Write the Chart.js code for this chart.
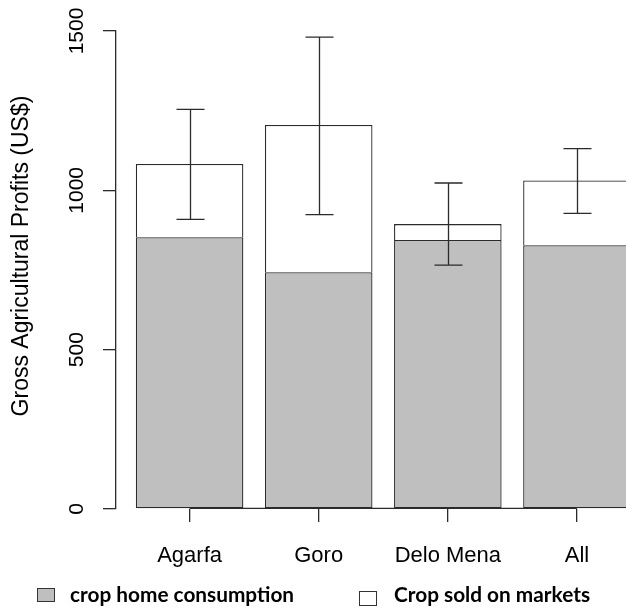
<!DOCTYPE html>
<html>
<head>
<meta charset="utf-8">
<script src="https://cdn.jsdelivr.net/npm/chart.js@4.4.1/dist/chart.umd.min.js"></script>
<style>
  body { margin: 0; background: #fff; overflow: hidden; }
  #wrap { position: relative; width: 626px; height: 610px; }
  .key-box { position: absolute; box-sizing: border-box; border: 1.5px solid #333; }
  .key-text { position: absolute; font: bold 20.8px Lato, sans-serif; line-height: 24px; color: #000; white-space: nowrap; }
</style>
</head>
<body>
<div id="wrap">
  <canvas id="profitChart" width="626" height="610"></canvas>
  <div id="legend"></div>
</div>
<script>
// values (US$)
const categories = ['Agarfa', 'Goro', 'Delo Mena', 'All'];
const homeConsumption = [853, 743, 844, 828];
const soldOnMarkets = [230, 462, 50, 203];
const errLow = [909, 924, 765, 928];
const errHigh = [1254, 1481, 1023, 1131];
const yTicks = [0, 500, 1000, 1500];
const seriesNames = ['crop home consumption', 'Crop sold on markets'];
const seriesColors = ['#bebfbe', '#ffffff'];
const yTitle = 'Gross Agricultural Profits (US$)';

const lineColor = '#2b2b2b';
const lineW = 1.3;
const tickFont = { family: '"Liberation Sans", Arial, sans-serif', size: 21 };

// error bars + axis line between first and last tick (R style)
const errorBars = {
  id: 'errorBars',
  afterDatasetsDraw(chart) {
    const { ctx, scales: { x, y } } = chart;
    const y0 = y.getPixelForValue(0) - lineW / 2;
    ctx.save();
    ctx.strokeStyle = lineColor;
    ctx.lineWidth = lineW;
    ctx.beginPath();
    ctx.moveTo(x.getPixelForValue(0), y0);
    ctx.lineTo(x.getPixelForValue(categories.length - 1), y0);
    ctx.stroke();
    categories.forEach((c, i) => {
      const px = Math.round(x.getPixelForValue(i)) + 0.5;
      const lo = y.getPixelForValue(errLow[i]);
      const hi = y.getPixelForValue(errHigh[i]);
      ctx.beginPath();
      ctx.moveTo(px, lo);
      ctx.lineTo(px, hi);
      ctx.moveTo(px - 14, lo);
      ctx.lineTo(px + 14, lo);
      ctx.moveTo(px - 14, hi);
      ctx.lineTo(px + 14, hi);
      ctx.stroke();
    });
    ctx.restore();
  }
};

// y title, centred a bit above the plot middle like the original
const yTitlePlugin = {
  id: 'yTitlePlugin',
  afterDraw(chart) {
    const { ctx, chartArea } = chart;
    ctx.save();
    ctx.translate(21.5, (chartArea.top + chartArea.bottom) / 2 - 14);
    ctx.rotate(-Math.PI / 2);
    ctx.font = '23px "Liberation Sans", Arial, sans-serif';
    ctx.fillStyle = '#000';
    ctx.textAlign = 'center';
    ctx.textBaseline = 'middle';
    ctx.fillText(yTitle, 0, 0);
    ctx.restore();
  }
};

const ctx = document.getElementById('profitChart').getContext('2d');
new Chart(ctx, {
  type: 'bar',
  data: {
    datasets: [
      {
        label: seriesNames[0],
        data: homeConsumption.map((v, i) => ({ x: i, y: v })),
        backgroundColor: seriesColors[0],
        borderColor: lineColor,
        borderWidth: lineW,
        borderSkipped: false
      },
      {
        label: seriesNames[1],
        data: soldOnMarkets.map((v, i) => ({ x: i, y: v })),
        backgroundColor: seriesColors[1],
        borderColor: lineColor,
        borderWidth: lineW
      }
    ]
  },
  options: {
    responsive: false,
    animation: false,
    devicePixelRatio: 1,
    barPercentage: 0.833,
    categoryPercentage: 1,
    layout: { padding: { top: 31, left: 0, right: 0, bottom: 0 } },
    plugins: {
      legend: { display: false },
      tooltip: { enabled: false }
    },
    scales: {
      x: {
        type: 'linear',
        stacked: true,
        offset: false,
        min: -0.570,
        max: 3.380,
        afterBuildTicks: axis => {
          axis.ticks = categories.map((c, i) => ({ value: i }));
        },
        afterFit: axis => { axis.height = 101; },
        grid: { offset: false, drawOnChartArea: false, tickLength: 13, color: lineColor, lineWidth: lineW },
        border: { display: false },
        ticks: {
          autoSkip: false,
          maxRotation: 0,
          padding: 21,
          color: '#000',
          font: { family: tickFont.family, size: 22 },
          callback: value => categories[value]
        }
      },
      y: {
        stacked: true,
        min: yTicks[0],
        max: yTicks[yTicks.length - 1],
        afterBuildTicks: axis => {
          axis.ticks = yTicks.map(v => ({ value: v }));
        },
        afterFit: axis => { axis.width = 116; },
        grid: { drawOnChartArea: false, tickLength: 13, color: lineColor, lineWidth: lineW },
        border: { display: true, color: lineColor, width: lineW },
        ticks: {
          autoSkip: false,
          minRotation: 90,
          maxRotation: 90,
          crossAlign: 'center',
          padding: 2,
          color: '#000',
          font: tickFont,
          callback: value => String(value)
        }
      }
    }
  },
  plugins: [errorBars, yTitlePlugin]
});

// legend under the plot, laid out like the original figure
const keyPlaces = [
  { box: [37, 588, 18, 14], text: [70, 582] },
  { box: [359, 591, 18, 15], text: [394, 582] }
];
const legendEl = document.getElementById('legend');
seriesNames.forEach((name, i) => {
  const p = keyPlaces[i];
  const box = document.createElement('span');
  box.className = 'key-box';
  box.style.left = p.box[0] + 'px';
  box.style.top = p.box[1] + 'px';
  box.style.width = p.box[2] + 'px';
  box.style.height = p.box[3] + 'px';
  box.style.background = seriesColors[i];
  legendEl.appendChild(box);
  const txt = document.createElement('span');
  txt.className = 'key-text';
  txt.style.left = p.text[0] + 'px';
  txt.style.top = p.text[1] + 'px';
  txt.textContent = name;
  legendEl.appendChild(txt);
});
</script>
</body>
</html>
